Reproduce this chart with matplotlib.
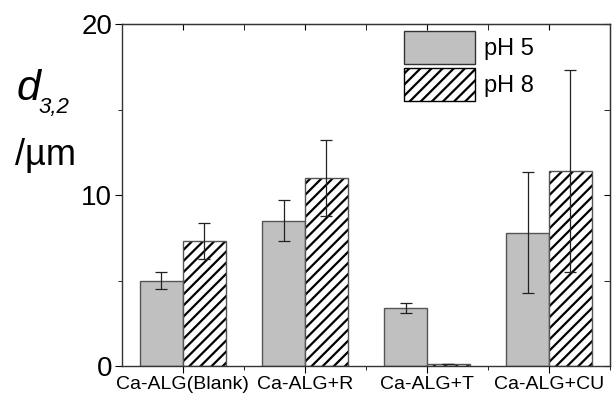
import matplotlib.pyplot as plt
from matplotlib.patches import Patch
import numpy as np

plt.rcParams['font.family'] = ['Liberation Sans', 'DejaVu Sans']
plt.rcParams['hatch.linewidth'] = 1.6

categories = ["Ca-ALG(Blank)", "Ca-ALG+R", "Ca-ALG+T", "Ca-ALG+CU"]
ph5_mean = [5.0, 8.5, 3.4, 7.8]
ph5_err = [0.5, 1.2, 0.3, 3.55]
ph8_mean = [7.3, 11.0, 0.1, 11.4]
ph8_err = [1.05, 2.25, 0.0, 5.9]

fig = plt.figure(figsize=(6.12, 4.01), dpi=100)
ax = fig.add_axes([0.199, 0.087, 0.798, 0.853])

x = np.arange(len(categories))
w = 0.35
ax.bar(x - w / 2, ph5_mean, w, color="#c0c0c0", edgecolor="#555555",
       linewidth=1.0)
# hatch drawn in black, outline in grey on top
ax.bar(x + w / 2, ph8_mean, w, color="white", edgecolor="black",
       hatch="///", linewidth=0)
ax.bar(x + w / 2, ph8_mean, w, fill=False, edgecolor="#555555", linewidth=1.0)
ax.errorbar(x - w / 2, ph5_mean, yerr=ph5_err, fmt="none", ecolor="#222222",
            elinewidth=0.9, capsize=4, capthick=0.9)
ax.errorbar(x + w / 2, ph8_mean, yerr=ph8_err, fmt="none", ecolor="#222222",
            elinewidth=0.9, capsize=4, capthick=0.9)

ax.set_xlim(-0.5, 3.5)
ax.set_ylim(0, 20)
ax.set_xticks(x)
ax.set_xticklabels(categories, fontsize=14)
ax.set_xticks(x + 0.5, minor=True)
ax.set_yticks([0, 10, 20])
ax.set_yticks([5, 15], minor=True)
ax.tick_params(axis="y", which="major", labelsize=20, length=5, direction="out", pad=2)
ax.tick_params(axis="y", which="minor", length=3, direction="out")
ax.tick_params(axis="x", which="major", length=5, direction="out", pad=2)
ax.tick_params(axis="x", which="minor", length=3, direction="out")
for spine in ax.spines.values():
    spine.set_linewidth(1.0)
    spine.set_color("#333333")

# inward ticks on top and right
top = ax.secondary_xaxis("top")
top.set_xticks(x)
top.set_xticks(x + 0.5, minor=True)
top.tick_params(which="both", direction="in", labeltop=False, length=4)
top.spines["top"].set_color("#333333")
right = ax.secondary_yaxis("right")
right.set_yticks([0, 10, 20])
right.set_yticks([5, 15], minor=True)
right.tick_params(which="both", direction="in", labelright=False, length=4)
right.spines["right"].set_color("#333333")

fig.text(17 / 612, 1 - 100 / 401, "d", fontsize=31, style="italic",
         ha="left", va="baseline")
fig.text(38 / 612, 1 - 113 / 401, "3,2", fontsize=16, style="italic",
         ha="left", va="baseline")
fig.text(15 / 612, 1 - 165 / 401, "/\u00b5m", fontsize=26,
         ha="left", va="baseline")

handles = [
    Patch(facecolor="#c0c0c0", edgecolor="#333333", linewidth=1.0, label="pH 5"),
    Patch(facecolor="white", edgecolor="black", hatch="///", linewidth=1.0, label="pH 8"),
]
ax.legend(handles=handles, loc="upper left", bbox_to_anchor=(0.578, 0.9795),
          frameon=False, fontsize=17, handlelength=3.0, handleheight=1.78,
          handletextpad=0.4, labelspacing=0.17, borderpad=0, borderaxespad=0)

fig.savefig("out.png", dpi=100)
